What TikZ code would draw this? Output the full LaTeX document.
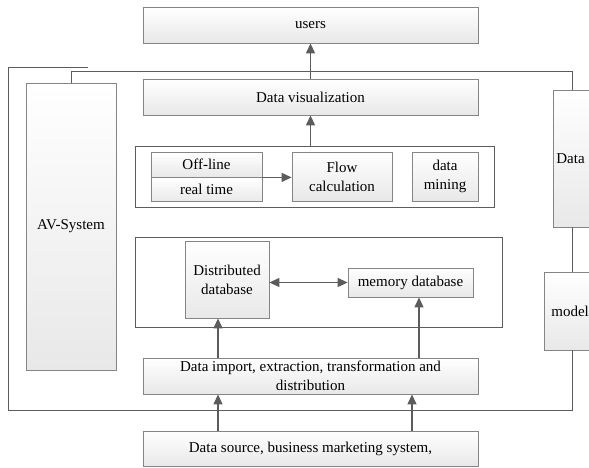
\documentclass[tikz,border=0pt]{standalone}
\usepackage{fontspec}
\setmainfont{Liberation Serif}
\usetikzlibrary{positioning, arrows.meta}
\definecolor{boxline}{HTML}{858585}
\definecolor{wirecol}{HTML}{5C5C5C}

\begin{document}
\begin{tikzpicture}[
        x=1pt, y=1pt,
        font=\fontsize{15}{19}\selectfont,
        box/.style={rectangle, draw=boxline, line width=0.8pt, top color=white, bottom color=gray!18, inner sep=2pt, align=center},
        frame/.style={rectangle, draw=wirecol, line width=1pt, fill=white},
        wire/.style={draw=wirecol, line width=1pt},
        arr/.style={-{Triangle[length=10pt, width=9pt]}, draw=wirecol, line width=1.2pt},
        dbl/.style={{Triangle[length=10pt, width=9pt]}-{Triangle[length=10pt, width=9pt]}, draw=wirecol, line width=1.2pt}
    ]
        \useasboundingbox (0,0) rectangle (589,467);

        % top of the stack
        \node[box, minimum width=335, minimum height=36] (users) at (310.5,442) {users};
        \node[box, minimum width=335, minimum height=36] (viz) at (310.5,370) {Data visualization};

        % calculation layer
        \node[frame, minimum width=359, minimum height=61] (calc) at (314.5,290.5) {};
        \node[box, minimum width=111, minimum height=25] (off) at (206.5,302.5) {Off-line};
        \node[box, minimum width=111, minimum height=24, below=0pt of off] (rt) {real time};
        \node[box, minimum width=100, minimum height=49] (flow) at (342,290.5) {Flow\\calculation};
        \node[box, minimum width=66, minimum height=49] (mining) at (445,290.5) {data\\mining};

        % storage layer
        \node[frame, minimum width=367, minimum height=90] (store) at (318.5,185) {};
        \node[box, minimum width=84, minimum height=77] (dist) at (227,187.5) {Distributed\\database};
        \node[box, minimum width=125, minimum height=29] (mem) at (410.5,184.5) {memory database};

        \node[box, minimum width=335, minimum height=36] (import) at (310.5,91) {Data import, extraction, transformation and\\distribution};
        \node[box, minimum width=335, minimum height=35] (source) at (310.5,18.5) {Data source, business marketing system,};

        % side boxes
        \node[box, minimum width=90, minimum height=287] (av) at (71,240.5) {AV-System};
        \node[box, minimum height=137, inner xsep=3pt, text width=60, align=left, anchor=west] (data) at (553,308.5) {Data};
        \node[box, minimum height=78, inner xsep=7pt, text width=50, align=left, anchor=west] (model) at (544,156) {model};

        \coordinate (tl) at (88,399);
        \coordinate (rail) at (572,0);
        \coordinate (la) at (218,0);
        \coordinate (ra) at (412,0);
        \coordinate (rb) at (419,0);

        \draw[wire] (tl) -| (8,57) -| (model.south -| rail);
        \draw[wire] (av.north) |- (572,395) -- (data.north -| rail);
        \draw[wire] (data.south -| rail) -- (model.north -| rail);

        \draw[arr] (viz.north) -- (users.south);
        \draw[arr] (viz.south |- calc.north) -- (viz.south);
        \draw[arr] (off.south east) -- (flow.west |- off.south east);
        \draw[dbl] (dist.east |- mem.west) -- (mem.west);
        \draw[arr] (import.north -| la) -- (dist.south -| la);
        \draw[arr] (import.north -| rb) -- (mem.south -| rb);
        \draw[arr] (source.north -| la) -- (import.south -| la);
        \draw[arr] (source.north -| ra) -- (import.south -| ra);
    \end{tikzpicture}
\end{document}
